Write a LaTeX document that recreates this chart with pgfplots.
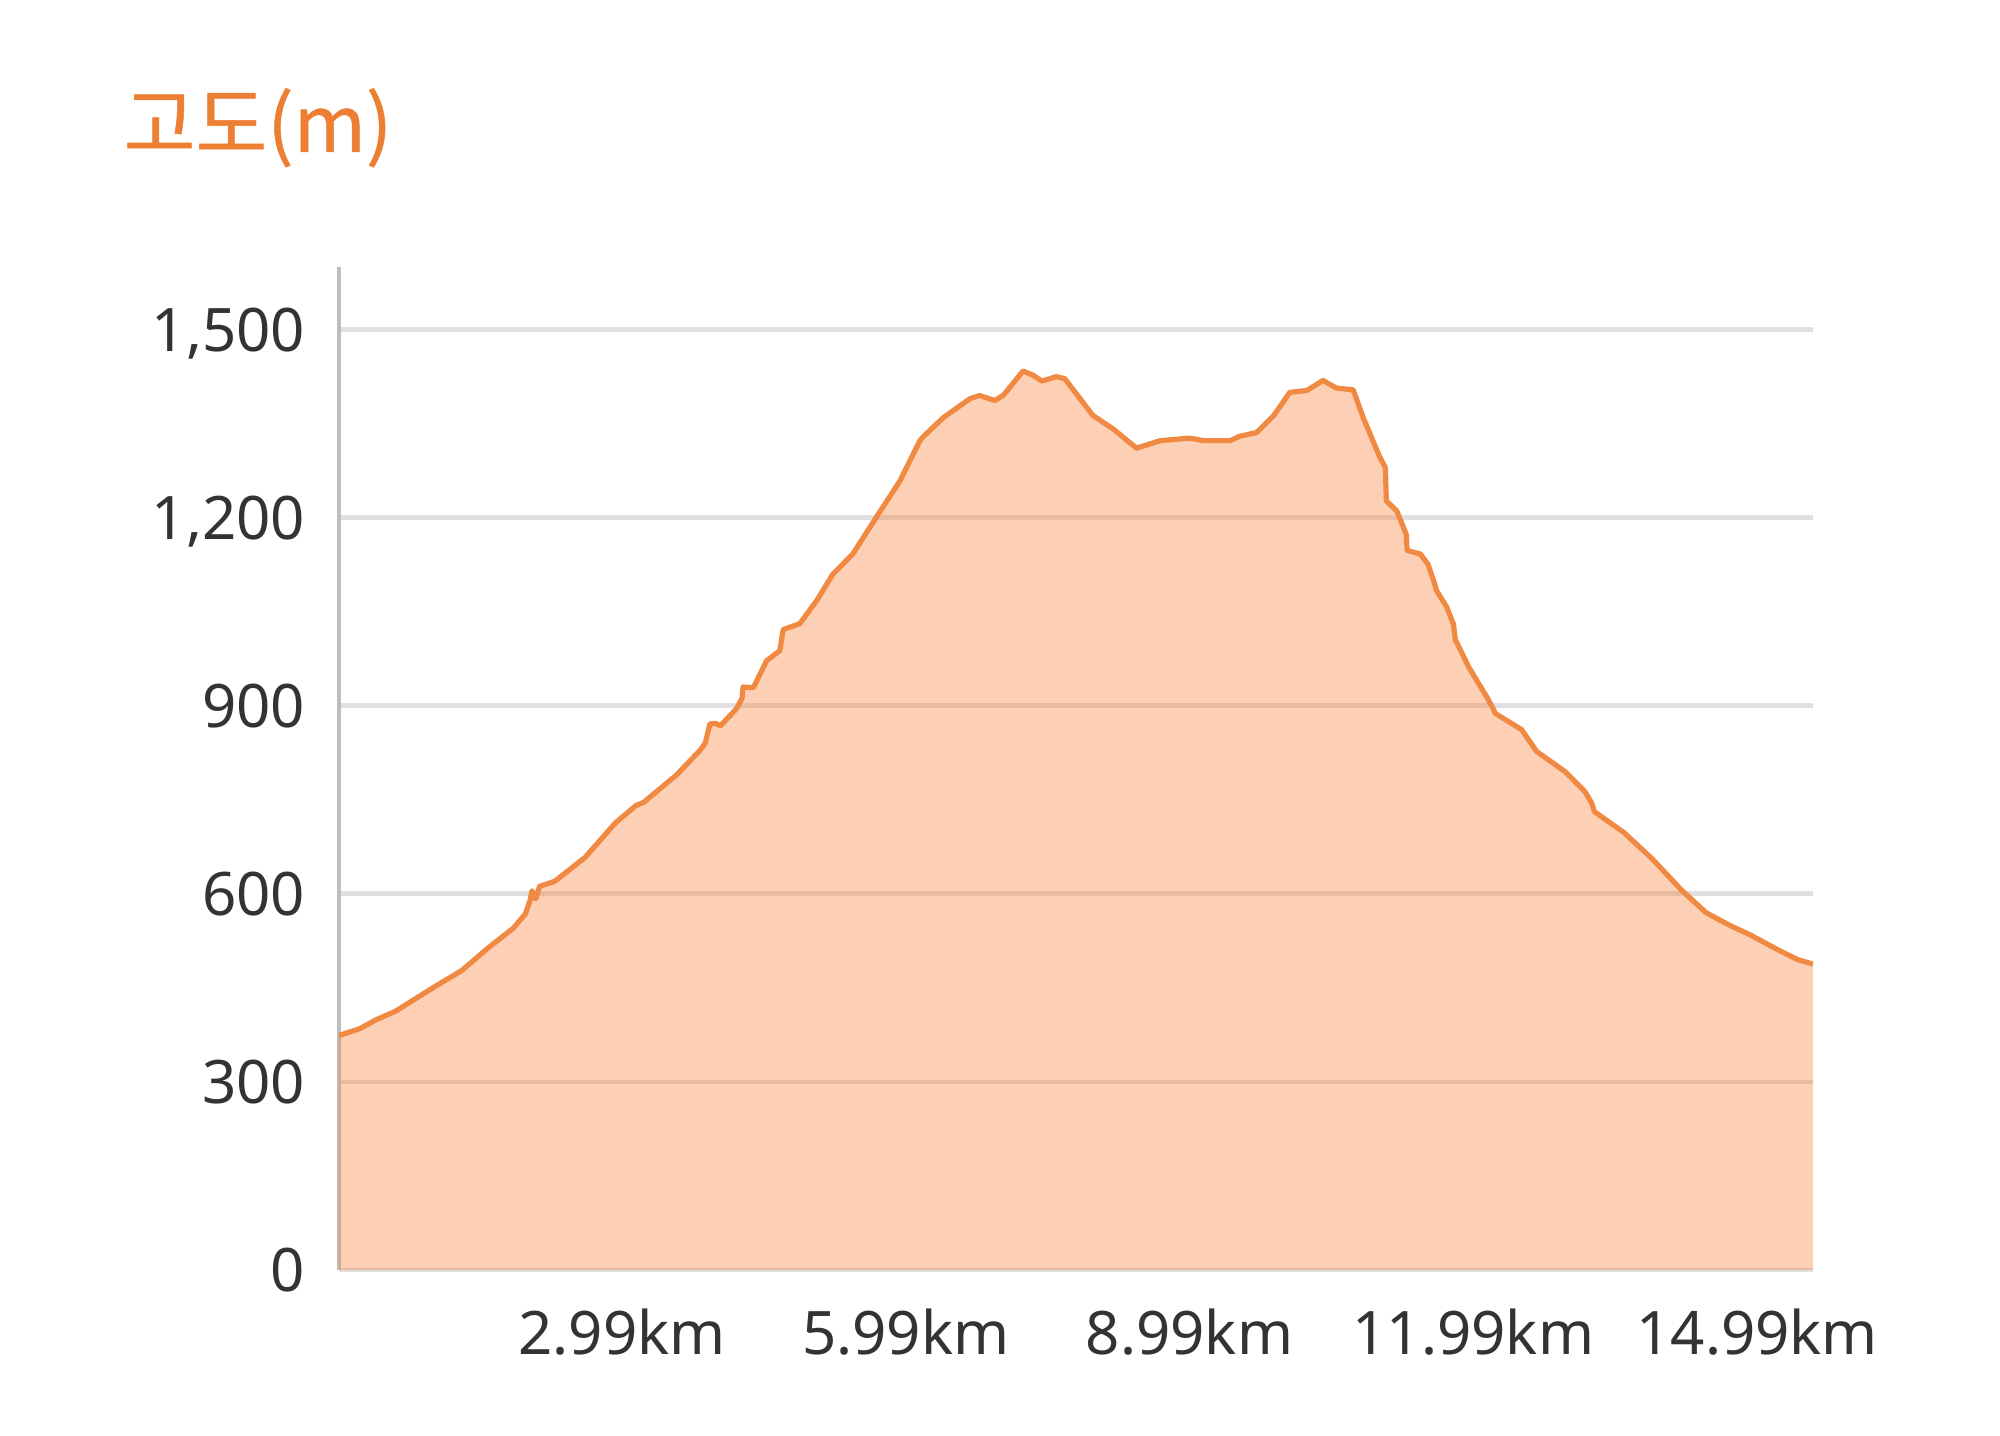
\documentclass[border=0pt]{standalone}
\usepackage{fontspec}
\setmainfont{Noto Sans}
\newfontfamily\cjk[FakeBold=0.6]{Noto Sans CJK KR}
\usepackage{pgfplots}
\usepackage{pgfplotstable}
\pgfplotsset{compat=1.18}
\definecolor{lineor}{HTML}{F08A42}
\definecolor{fillor}{HTML}{FA823C}
\definecolor{titleor}{HTML}{EC7F33}
\definecolor{gridg}{HTML}{E0E0E0}
\definecolor{axisg}{HTML}{BDBDBD}
\definecolor{txt}{HTML}{333333}
\pgfplotstableread{
km m
0.00 374
0.22 385
0.39 399
0.60 413
0.98 449
1.30 478
1.57 513
1.84 545
1.97 568
2.02 590
2.04 605
2.08 592
2.12 612
2.28 620
2.60 658
2.92 713
3.14 741
3.22 746
3.57 790
3.81 828
3.87 840
3.92 871
3.98 872
4.03 868
4.20 895
4.26 912
4.27 930
4.38 929
4.52 972
4.66 988
4.69 1018
4.70 1022
4.87 1031
5.05 1068
5.22 1110
5.43 1142
5.68 1201
5.93 1259
6.14 1323
6.18 1330
6.39 1360
6.67 1390
6.77 1395
6.93 1387
7.02 1395
7.23 1434
7.34 1427
7.43 1418
7.58 1425
7.67 1422
7.97 1363
8.18 1342
8.43 1311
8.68 1323
8.99 1327
9.14 1323
9.42 1323
9.52 1330
9.70 1336
9.88 1363
10.05 1400
10.23 1403
10.40 1419
10.54 1407
10.72 1404
10.83 1358
11.00 1297
11.06 1280
11.07 1227
11.18 1211
11.28 1174
11.29 1148
11.43 1142
11.51 1126
11.58 1095
11.60 1084
11.71 1057
11.78 1030
11.80 1005
11.85 990
11.94 962
12.14 912
12.20 895
12.22 888
12.50 862
12.66 827
12.96 795
13.17 763
13.24 745
13.27 731
13.58 698
13.88 656
14.19 606
14.45 570
14.71 549
14.91 535
15.22 510
15.42 495
15.58 488
}\elev
\begin{document}
\begin{tikzpicture}
\useasboundingbox (-84.75pt,-41.25pt) rectangle (415.25pt,317.5pt);
\begin{axis}[at={(0,0)}, anchor=south west, scale only axis,
  width=368.5pt, height=250.75pt,
  xmin=0, xmax=15.58, ymin=0, ymax=1600,
  axis x line*=bottom, axis y line*=left, axis line style={-},
  x axis line style={draw=none},
  y axis line style={draw=axisg, line width=0.8pt},
  ytick={0,300,600,900,1200,1500},
  yticklabels={0,300,600,900,{1,200},{1,500}},
  xtick={2.99,5.99,8.99,11.99,14.99},
  xticklabels={2.99km,5.99km,8.99km,11.99km,14.99km},
  major tick length=0pt,
  ymajorgrids, grid style={draw=gridg, line width=1.2pt},
  ticklabel style={font=\fontsize{15}{18}\selectfont, text=txt, inner sep=0pt},
  yticklabel style={anchor=base east, xshift=-8.25pt, yshift=-5.4pt},
  xticklabel style={anchor=base, yshift=-21pt},
]
\addplot[draw=none, fill=fillor, fill opacity=0.38] table[x=km,y=m] {\elev} \closedcycle;
\addplot[draw=lineor, line width=1.3pt, line join=round] table[x=km,y=m] {\elev};
\end{axis}
\node[anchor=base west, inner sep=0pt, text=titleor, font=\cjk\fontsize{19.5}{22}\selectfont] at (-54pt,279.5pt) {고도(m)};
\end{tikzpicture}
\end{document}
